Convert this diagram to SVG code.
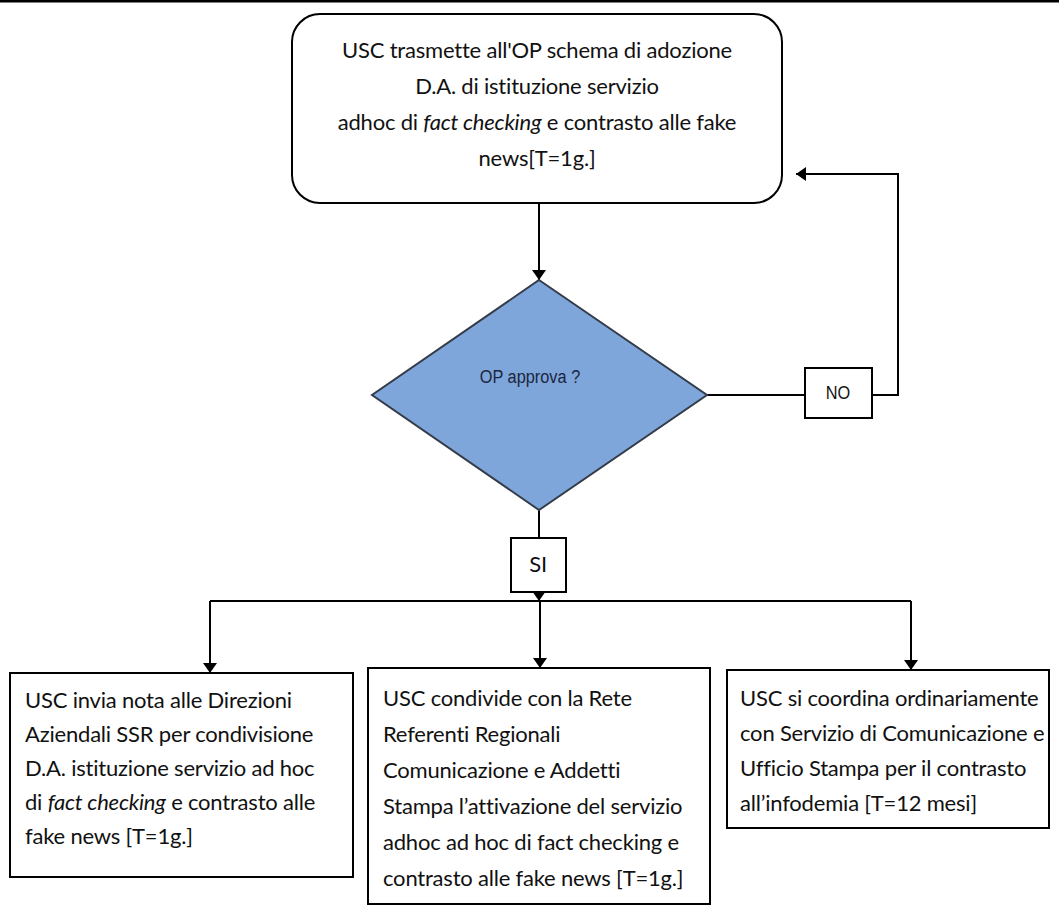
<svg xmlns="http://www.w3.org/2000/svg" width="1059" height="905" viewBox="0 0 1059 905">
  <defs>
    <marker id="arrow" viewBox="0 0 10 14" refX="10" refY="7" markerWidth="10" markerHeight="14" markerUnits="userSpaceOnUse" orient="auto">
      <path d="M0,0 L10,7 L0,14 Z" fill="#000"/>
    </marker>
    <style>
      .box { fill: #fff; stroke: #000; stroke-width: 2; }
      .txt { font-family: Lato, "Liberation Sans", sans-serif; font-size: 22px; letter-spacing: -0.2px; fill: #111; }
      .ctr { text-anchor: middle; }
      .it { font-style: italic; }
      .lbl { font-family: "Liberation Sans", Arial, sans-serif; font-size: 19px; fill: #111; text-anchor: middle; }
      .dec { fill: #7fa6da; stroke: #333c48; stroke-width: 2; }
      .dectxt { font-family: "Liberation Sans", Arial, sans-serif; font-size: 19px; fill: #1a2540; text-anchor: middle; }
      .wire { fill: none; stroke: #000; stroke-width: 2; }
      .wa { fill: none; stroke: #000; stroke-width: 2; marker-end: url(#arrow); }
    </style>
  </defs>

  <rect width="1059" height="905" fill="#fff"/>
  <line x1="0" y1="1" x2="1059" y2="1" stroke="#000" stroke-width="3"/>

  <!-- connectors -->
  <g id="connectors">
    <path class="wa" d="M539,203 V280"/>
    <path class="wire" d="M707,395 H805"/>
    <path class="wa" d="M872,395 H898 V174 H796"/>
    <path class="wire" d="M539,510 V538"/>
    <path class="wa" d="M539,592 V601"/>
    <path class="wire" d="M210,601 H911"/>
    <path class="wa" d="M210,601 V673"/>
    <path class="wa" d="M540,601 V668"/>
    <path class="wa" d="M911,601 V670"/>
  </g>

  <!-- start step -->
  <g id="node-start">
    <rect class="box" x="292" y="14" width="490" height="189" rx="28" ry="28"/>
    <text class="txt ctr" x="537" y="58">USC trasmette all'OP schema di adozione</text>
    <text class="txt ctr" x="537" y="94">D.A. di istituzione servizio</text>
    <text class="txt ctr" x="537" y="130">adhoc di <tspan class="it">fact checking</tspan> e contrasto alle fake</text>
    <text class="txt ctr" x="537" y="166">news[T=1g.]</text>
  </g>

  <!-- decision -->
  <g id="node-decision">
    <polygon class="dec" points="539,280 707,395 539,510 372,395"/>
    <text class="dectxt" transform="translate(530,383) scale(0.86,1)">OP approva ?</text>
  </g>

  <g id="node-no">
    <rect class="box" x="805" y="368" width="67" height="50"/>
    <text class="lbl" transform="translate(838,399) scale(0.86,1)">NO</text>
  </g>

  <g id="node-si">
    <rect class="box" x="511" y="538" width="55" height="54"/>
    <text class="txt ctr" x="538" y="572">SI</text>
  </g>

  <!-- outcomes -->
  <g id="node-direzioni">
    <rect class="box" x="10" y="673" width="343" height="204"/>
    <text class="txt" x="25" y="708">USC invia nota alle Direzioni</text>
    <text class="txt" x="25" y="742">Aziendali SSR per condivisione</text>
    <text class="txt" x="25" y="776">D.A. istituzione servizio ad hoc</text>
    <text class="txt" x="25" y="810">di <tspan class="it">fact checking</tspan> e contrasto alle</text>
    <text class="txt" x="25" y="844">fake news [T=1g.]</text>
  </g>

  <g id="node-rete">
    <rect class="box" x="368" y="668" width="342" height="236"/>
    <text class="txt" x="383" y="706">USC condivide con la Rete</text>
    <text class="txt" x="383" y="742">Referenti Regionali</text>
    <text class="txt" x="383" y="778">Comunicazione e Addetti</text>
    <text class="txt" x="383" y="814">Stampa l’attivazione del servizio</text>
    <text class="txt" x="383" y="850">adhoc ad hoc di fact checking e</text>
    <text class="txt" x="383" y="886">contrasto alle fake news [T=1g.]</text>
  </g>

  <g id="node-coordina">
    <rect class="box" x="727" y="670" width="322" height="158"/>
    <text class="txt" x="740" y="706">USC si coordina ordinariamente</text>
    <text class="txt" x="740" y="741">con Servizio di Comunicazione e</text>
    <text class="txt" x="740" y="776">Ufficio Stampa per il contrasto</text>
    <text class="txt" x="740" y="811">all’infodemia  [T=12 mesi]</text>
  </g>
</svg>
